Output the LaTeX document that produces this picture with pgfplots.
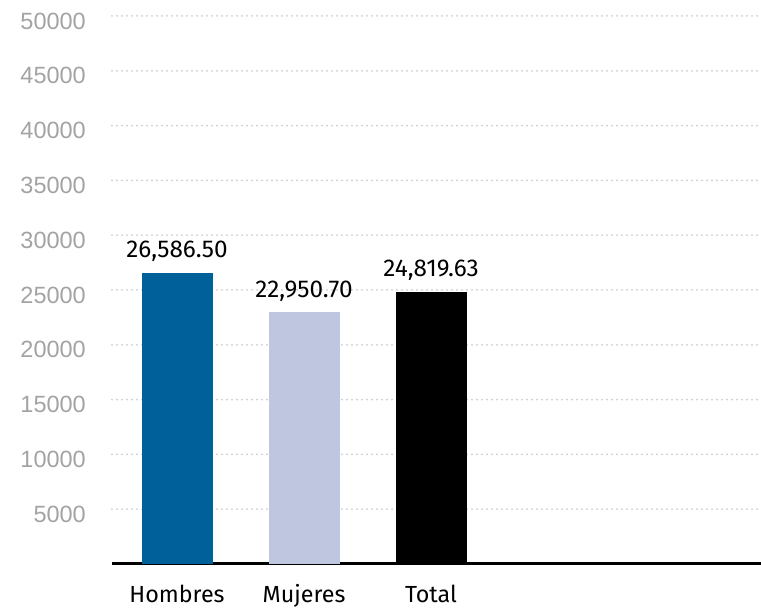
\documentclass[border=0pt]{standalone}
\usepackage{pgfplots}
\pgfplotsset{compat=1.18}
\usepackage{fontspec}
\setmainfont{Fira Sans}
\newfontfamily\tickfont{Liberation Sans}
\definecolor{hombres}{HTML}{00609A}
\definecolor{mujeres}{HTML}{BFC6DF}
\definecolor{tickgray}{HTML}{A3A3A3}
\definecolor{gridgray}{HTML}{CCCCCC}
\begin{document}
\begin{tikzpicture}
\useasboundingbox (-112pt,-45pt) rectangle (649pt,564pt);
\begin{axis}[
  at={(0,0)}, anchor=south west,
  scale only axis,
  width=649pt, height=548pt,
  xmin=-0.512, xmax=4.598,
  ymin=0, ymax=50000,
  axis lines*=left,
  y axis line style={draw=none},
  x axis line style={line width=3pt, black},
  tick style={draw=none},
  xtick={0,1,2},
  xticklabels={Hombres,Mujeres,Total},
  ytick={5000,10000,...,50000},
  scaled y ticks=false,
  yticklabel={\pgfmathprintnumber[fixed,precision=0,1000 sep={}]{\tick}},
  ymajorgrids,
  major grid style={gridgray, line width=2pt, line cap=round, dash pattern=on 0pt off 5pt},
  /pgf/number format/1000 sep={},
  /pgf/number format/assume math mode=true,
  yticklabel style={font=\tickfont\fontsize{23.5}{28}\selectfont, text=tickgray, anchor=east, inner sep=0pt, xshift=-26pt, yshift=-5pt},
  xticklabel style={font=\fontsize{23.3}{27}\selectfont, anchor=base, inner sep=0pt, yshift=-39pt},
  clip=false,
]
\addplot[ybar, bar width=71pt, fill=hombres, draw=none, bar shift=0pt,
  nodes near coords, point meta=explicit symbolic,
  every node near coord/.append style={font=\fontsize{24.3}{28}\selectfont, anchor=base, inner sep=0pt, yshift=15pt}]
  table[meta=label] {
  x y label
  0 26586.50 {26,586.50}
};
\addplot[ybar, bar width=71pt, fill=mujeres, draw=none, bar shift=0pt,
  nodes near coords, point meta=explicit symbolic,
  every node near coord/.append style={font=\fontsize{24.3}{28}\selectfont, anchor=base, inner sep=0pt, yshift=15pt}]
  table[meta=label] {
  x y label
  1 22950.70 {22,950.70}
};
\addplot[ybar, bar width=71pt, fill=black, draw=none, bar shift=0pt,
  nodes near coords, point meta=explicit symbolic,
  every node near coord/.append style={font=\fontsize{24.3}{28}\selectfont, anchor=base, inner sep=0pt, yshift=15pt}]
  table[meta=label] {
  x y label
  2 24819.63 {24,819.63}
};
\end{axis}
\end{tikzpicture}
\end{document}
